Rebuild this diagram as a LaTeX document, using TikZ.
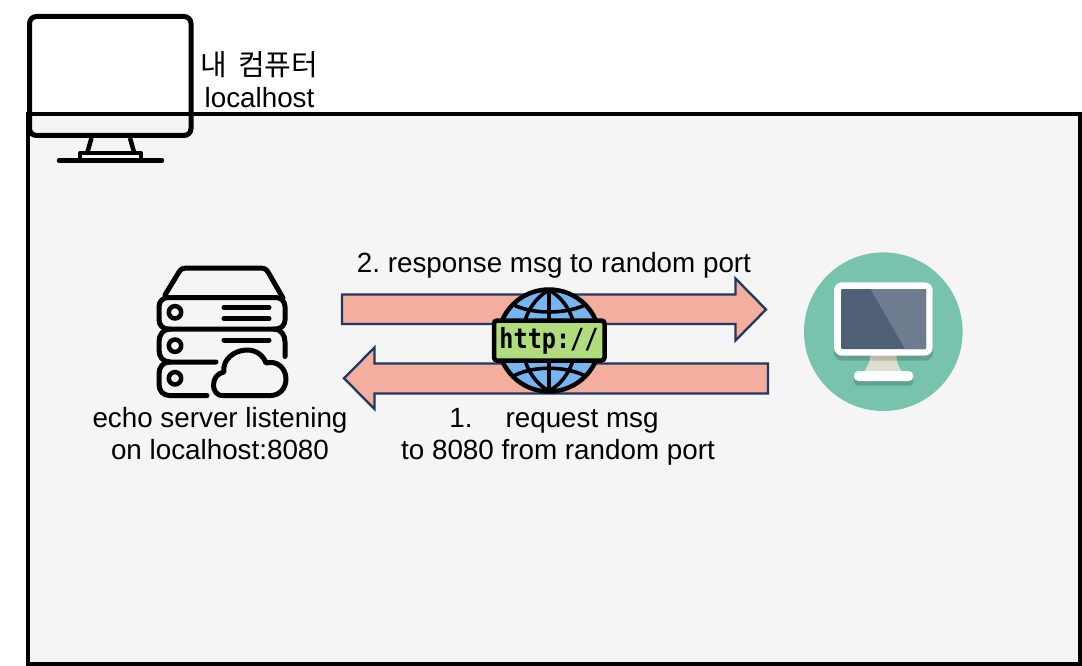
\documentclass[tikz,border=0pt]{standalone}
\usepackage{fontspec}
\setmainfont{Liberation Sans}
\newfontfamily\cjk{Noto Sans CJK KR}[WordSpace=1.6]
\newfontfamily\httpfont{DejaVu Sans Mono}
\definecolor{panel}{HTML}{F5F5F5}
\definecolor{salmon}{HTML}{F4AE9E}
\definecolor{navy}{HTML}{1F3864}
\definecolor{teal}{HTML}{77C3AE}
\definecolor{tealdk}{HTML}{63A08F}
\definecolor{scrA}{HTML}{4F5F76}
\definecolor{scrB}{HTML}{6F7C8F}
\definecolor{neck}{HTML}{DFDFD0}
\definecolor{neckdk}{HTML}{BDB8A8}
\definecolor{globe}{HTML}{75B6F2}
\definecolor{tag}{HTML}{B0DC7E}
\frenchspacing
\tikzset{
  px/.style={x=1pt,y=-1pt},
  lbl/.style={font=\fontsize{27.8}{32}\selectfont,align=center,text=black,inner sep=0pt},
  blockarrow/.style={fill=salmon,draw=navy,line width=2.3pt,line join=miter},
  icon/.style={draw=black,line width=5pt,line cap=round,line join=round},
  globeline/.style={draw=black,line width=3.6pt,line cap=round}
}
\begin{document}
\begin{tikzpicture}[px]
\useasboundingbox (0,0) rectangle (1082,666);
\fill[white] (0,0) rectangle (1082,666);
% panel
\draw[fill=panel,draw=black,line width=4.2pt,line join=miter] (28,114) rectangle (1080,664);
% imac
\draw[draw=black,line width=5pt,rounded corners=7pt] (29.5,16.5) rectangle (191,135.5);
\draw[draw=black,line width=4.5pt] (91.5,138) -- (87.5,152);
\draw[draw=black,line width=4.5pt] (130,138) -- (134,152);
\draw[draw=black,line width=4pt,line join=round] (80,159) -- (80,153) -- (141,153) -- (141,159);
\draw[draw=black,line width=4.5pt,line cap=round] (59,160.5) -- (162,160.5);
\node[lbl,anchor=center] (mypc) at (259.5,79.5) {{\cjk\fontsize{29}{32}\selectfont 내 컴퓨터}\\localhost};
% arrows
\draw[blockarrow] (342,294.5) -- (735.5,294.5) -- (735.5,278.5) -- (766,309.5) -- (735.5,340.5) -- (735.5,324) -- (342,324) -- cycle;
\draw[blockarrow] (768,363.5) -- (374.5,363.5) -- (374.5,347.5) -- (344,378.3) -- (374.5,409) -- (374.5,393.5) -- (768,393.5) -- cycle;
% globe
\fill[globe] (549,340.5) circle (51);
\begin{scope}
\clip (549,340.5) circle (51);
\draw[globeline] (549,290) -- (549,391);
\draw[globeline] (549,290) .. controls (513,310) and (513,371) .. (549,391);
\draw[globeline] (549,290) .. controls (585,310) and (585,371) .. (549,391);
\draw[globeline] (510,303) .. controls (530,315) and (568,315) .. (589,303);
\draw[globeline] (510,378) .. controls (530,365) and (568,365) .. (589,378);
\end{scope}
\draw[black,line width=4.5pt] (549,340.5) circle (51);
\draw[fill=tag,draw=black,line width=4.5pt,rounded corners=3pt] (494,320.5) rectangle (604.5,360.5);
\node[inner sep=0pt,font=\httpfont\bfseries\fontsize{23.5}{27}\selectfont] (http) at (549,340.5) {\scalebox{1}[1.18]{http://}};
% server
\draw[icon] (165,295) -- (179,272) .. controls (181,269) and (183,268) .. (186,268) -- (261,268) .. controls (264,268) and (266,269) .. (268,272) -- (283,298);
\draw[icon,rounded corners=9pt] (159,297.5) rectangle (285,329);
\draw[icon] (170,329) .. controls (163,329) and (159,335) .. (159,342) -- (159,350) .. controls (159,357) and (163,362) .. (170,362) -- (216,362);
\draw[icon] (274,329) .. controls (281,329) and (285,335) .. (285,342) -- (285,356.5);
\draw[icon] (170,362) .. controls (163,362) and (159,367) .. (159,374) -- (159,384) .. controls (159,391) and (163,395.6) .. (170,395.6) -- (207,395.6);
\draw[icon] (224,307.5) -- (269,307.5);
\draw[icon] (224,318.5) -- (269,318.5);
\draw[icon] (224,340) -- (269,340);
\foreach \cy in {312.3,345.7,378.3}{\draw[draw=black,line width=4.5pt] (175,\cy) circle (6.2);}
\draw[icon] (223,395.6) .. controls (216,395.6) and (213.5,390) .. (213.5,385) .. controls (213.5,378) and (218,373) .. (224,372) .. controls (222,360) and (234,350) .. (247,350) .. controls (256,350) and (263,355) .. (266,363) .. controls (278,360) and (286,369) .. (286,379) .. controls (286,389) and (279,395.6) .. (270,395.6) -- cycle;
\node[lbl] (server) at (220,434) {echo server listening\\on localhost:8080};
\node[lbl] (resp) at (554,265) {2. response msg to random port};
\node[lbl] (req) at (558,437) {\hspace*{-8pt}1.\hspace{33pt}request msg\\to 8080 from random port};
% client
\fill[teal] (883.3,331.7) circle (79.3);
\fill[tealdk,rounded corners=8pt] (834,290) rectangle (933,360.7);
\fill[neck] (871,355) -- (896,355) .. controls (896,362) and (899,367) .. (902,372) -- (864,372) .. controls (867,367) and (870,362) .. (871,355) -- cycle;
\fill[neckdk] (871,355) -- (896,355) -- (896.5,360.7) -- (870.5,360.7) -- cycle;
\fill[tealdk,rounded corners=4pt] (854,376) rectangle (913.3,385.7);
\fill[white,rounded corners=4.5pt] (854,371) rectangle (913.3,381);
\fill[white,rounded corners=8pt] (834,282.3) rectangle (932.7,355.7);
\fill[scrA,rounded corners=1pt] (841,289) rectangle (926,349);
\fill[scrB] (870.5,289) -- (925,289) .. controls (926,289) and (926,289) .. (926,290) -- (926,348) .. controls (926,349) and (926,349) .. (925,349) -- (905,349) -- cycle;
\end{tikzpicture}
\end{document}
